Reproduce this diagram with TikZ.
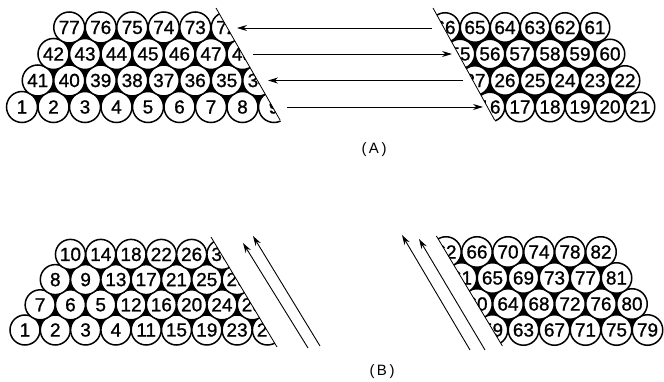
\documentclass[tikz,border=0pt]{standalone}
\usepackage{fontspec}
\setmainfont{Liberation Sans}
\newfontfamily\ballfam[FakeBold=1]{Liberation Sans}
\usetikzlibrary{arrows.meta}
\begin{document}
\begin{tikzpicture}[x=1pt,y=-1pt,
  ball/.style={circle,draw=black,line width=1.5pt,fill=white,minimum size=#1,inner sep=0pt,font=\ballfam\fontsize{19}{19}\selectfont},
  cutline/.style={line width=0.8pt},
  conn/.style={line width=0.9pt,-{Stealth[length=10pt,width=6pt]}},
  panellabel/.style={font=\fontsize{15}{15}\selectfont}]
\useasboundingbox (0,0) rectangle (664,382);
\def\ballrow#1#2#3#4#5#6{%
  \foreach \lab [count=\k from 0] in {#6} {
    \node[ball=#5] (#1-\lab) at ({#2+\k*#4},#3) {\lab};
  }}
% ---------------- (A) left bundle
\begin{scope}
  \clip (-5,0) -- (211.4,0) -- (291.4,140) -- (-5,140) -- cycle;
  \fill (22,107) -- (274,107) -- (226.75,27.5) -- (69.25,27.5) -- cycle;
  \ballrow{LA}{22}{107}{31.5}{31pt}{1,2,3,4,5,6,7,8,9}
  \ballrow{LA}{37.75}{80.5}{31.5}{31pt}{41,40,39,38,37,36,35,34}
  \ballrow{LA}{53.5}{54}{31.5}{31pt}{42,43,44,45,46,47,48}
  \ballrow{LA}{69.25}{27.5}{31.5}{31pt}{77,76,75,74,73,72}
\end{scope}
\coordinate (LAcutT) at (216,8);
\coordinate (LAcutB) at (280,120);
\draw[cutline] (LAcutT) -- (LAcutB);
% ---------------- (A) right bundle
\begin{scope}
  \clip (428.6,0) -- (669,0) -- (669,140) -- (505.6,140) -- cycle;
  \fill (490,107) -- (640,107) -- (595,27.5) -- (445,27.5) -- cycle;
  \ballrow{RA}{490}{107}{30}{29.5pt}{16,17,18,19,20,21}
  \ballrow{RA}{475}{80.5}{30}{29.5pt}{27,26,25,24,23,22}
  \ballrow{RA}{460}{54}{30}{29.5pt}{55,56,57,58,59,60}
  \ballrow{RA}{445}{27.5}{30}{29.5pt}{66,65,64,63,62,61}
\end{scope}
\coordinate (RAcutT) at (433,8);
\coordinate (RAcutB) at (494.6,120);
\draw[cutline] (RAcutT) -- (RAcutB);
% ---------------- (A) arrows
\coordinate (a1s) at (432,28);   \coordinate (a1e) at (237,28);
\coordinate (a2s) at (253,54);   \coordinate (a2e) at (452,54);
\coordinate (a3s) at (463,80.5); \coordinate (a3e) at (268,80.5);
\coordinate (a4s) at (287,107);  \coordinate (a4e) at (483,107);
\draw[conn] (a1s) -- (a1e);
\draw[conn] (a2s) -- (a2e);
\draw[conn] (a3s) -- (a3e);
\draw[conn] (a4s) -- (a4e);
\node[panellabel] (labA) at (374,150) {(\,A\,)};
% ---------------- (B) left bundle
\begin{scope}
  \clip (-5,226) -- (204.4,226) -- (284.8,360) -- (-5,360) -- cycle;
  \fill (25,330) -- (267.4,330) -- (221.95,254.4) -- (70.45,254.4) -- cycle;
  \ballrow{LB}{25}{330}{30.3}{30pt}{1,2,3,4,11,15,19,23,27}
  \ballrow{LB}{40.15}{304.8}{30.3}{30pt}{7,6,5,12,16,20,24,28}
  \ballrow{LB}{55.3}{279.6}{30.3}{30pt}{8,9,13,17,21,25,29}
  \ballrow{LB}{70.45}{254.4}{30.3}{30pt}{10,14,18,22,26,30}
\end{scope}
\coordinate (LBcutT) at (211,237);
\coordinate (LBcutB) at (277,347);
\draw[cutline] (LBcutT) -- (LBcutB);
% ---------------- (B) right bundle
\begin{scope}
  \clip (430.4,226) -- (669,226) -- (669,360) -- (510.8,360) -- cycle;
  \fill (492.5,330) -- (647.5,330) -- (601,252) -- (446,252) -- cycle;
  \ballrow{RB}{492.5}{330}{31}{30.5pt}{59,63,67,71,75,79}
  \ballrow{RB}{477}{304}{31}{30.5pt}{60,64,68,72,76,80}
  \ballrow{RB}{461.5}{278}{31}{30.5pt}{61,65,69,73,77,81}
  \ballrow{RB}{446}{252}{31}{30.5pt}{62,66,70,74,78,82}
\end{scope}
\coordinate (RBcutT) at (436.4,236);
\coordinate (RBcutB) at (502.4,346);
\draw[cutline] (RBcutT) -- (RBcutB);
% ---------------- (B) arrows
\coordinate (b1s) at (308,348); \coordinate (b1e) at (243,243);
\coordinate (b2s) at (320,346); \coordinate (b2e) at (253,236);
\coordinate (b3s) at (470,350); \coordinate (b3e) at (402,235);
\coordinate (b4s) at (485,350); \coordinate (b4e) at (419,239);
\draw[conn] (b1s) -- (b1e);
\draw[conn] (b2s) -- (b2e);
\draw[conn] (b3s) -- (b3e);
\draw[conn] (b4s) -- (b4e);
\node[panellabel] (labB) at (382,372) {(\,B\,)};
\end{tikzpicture}
\end{document}
